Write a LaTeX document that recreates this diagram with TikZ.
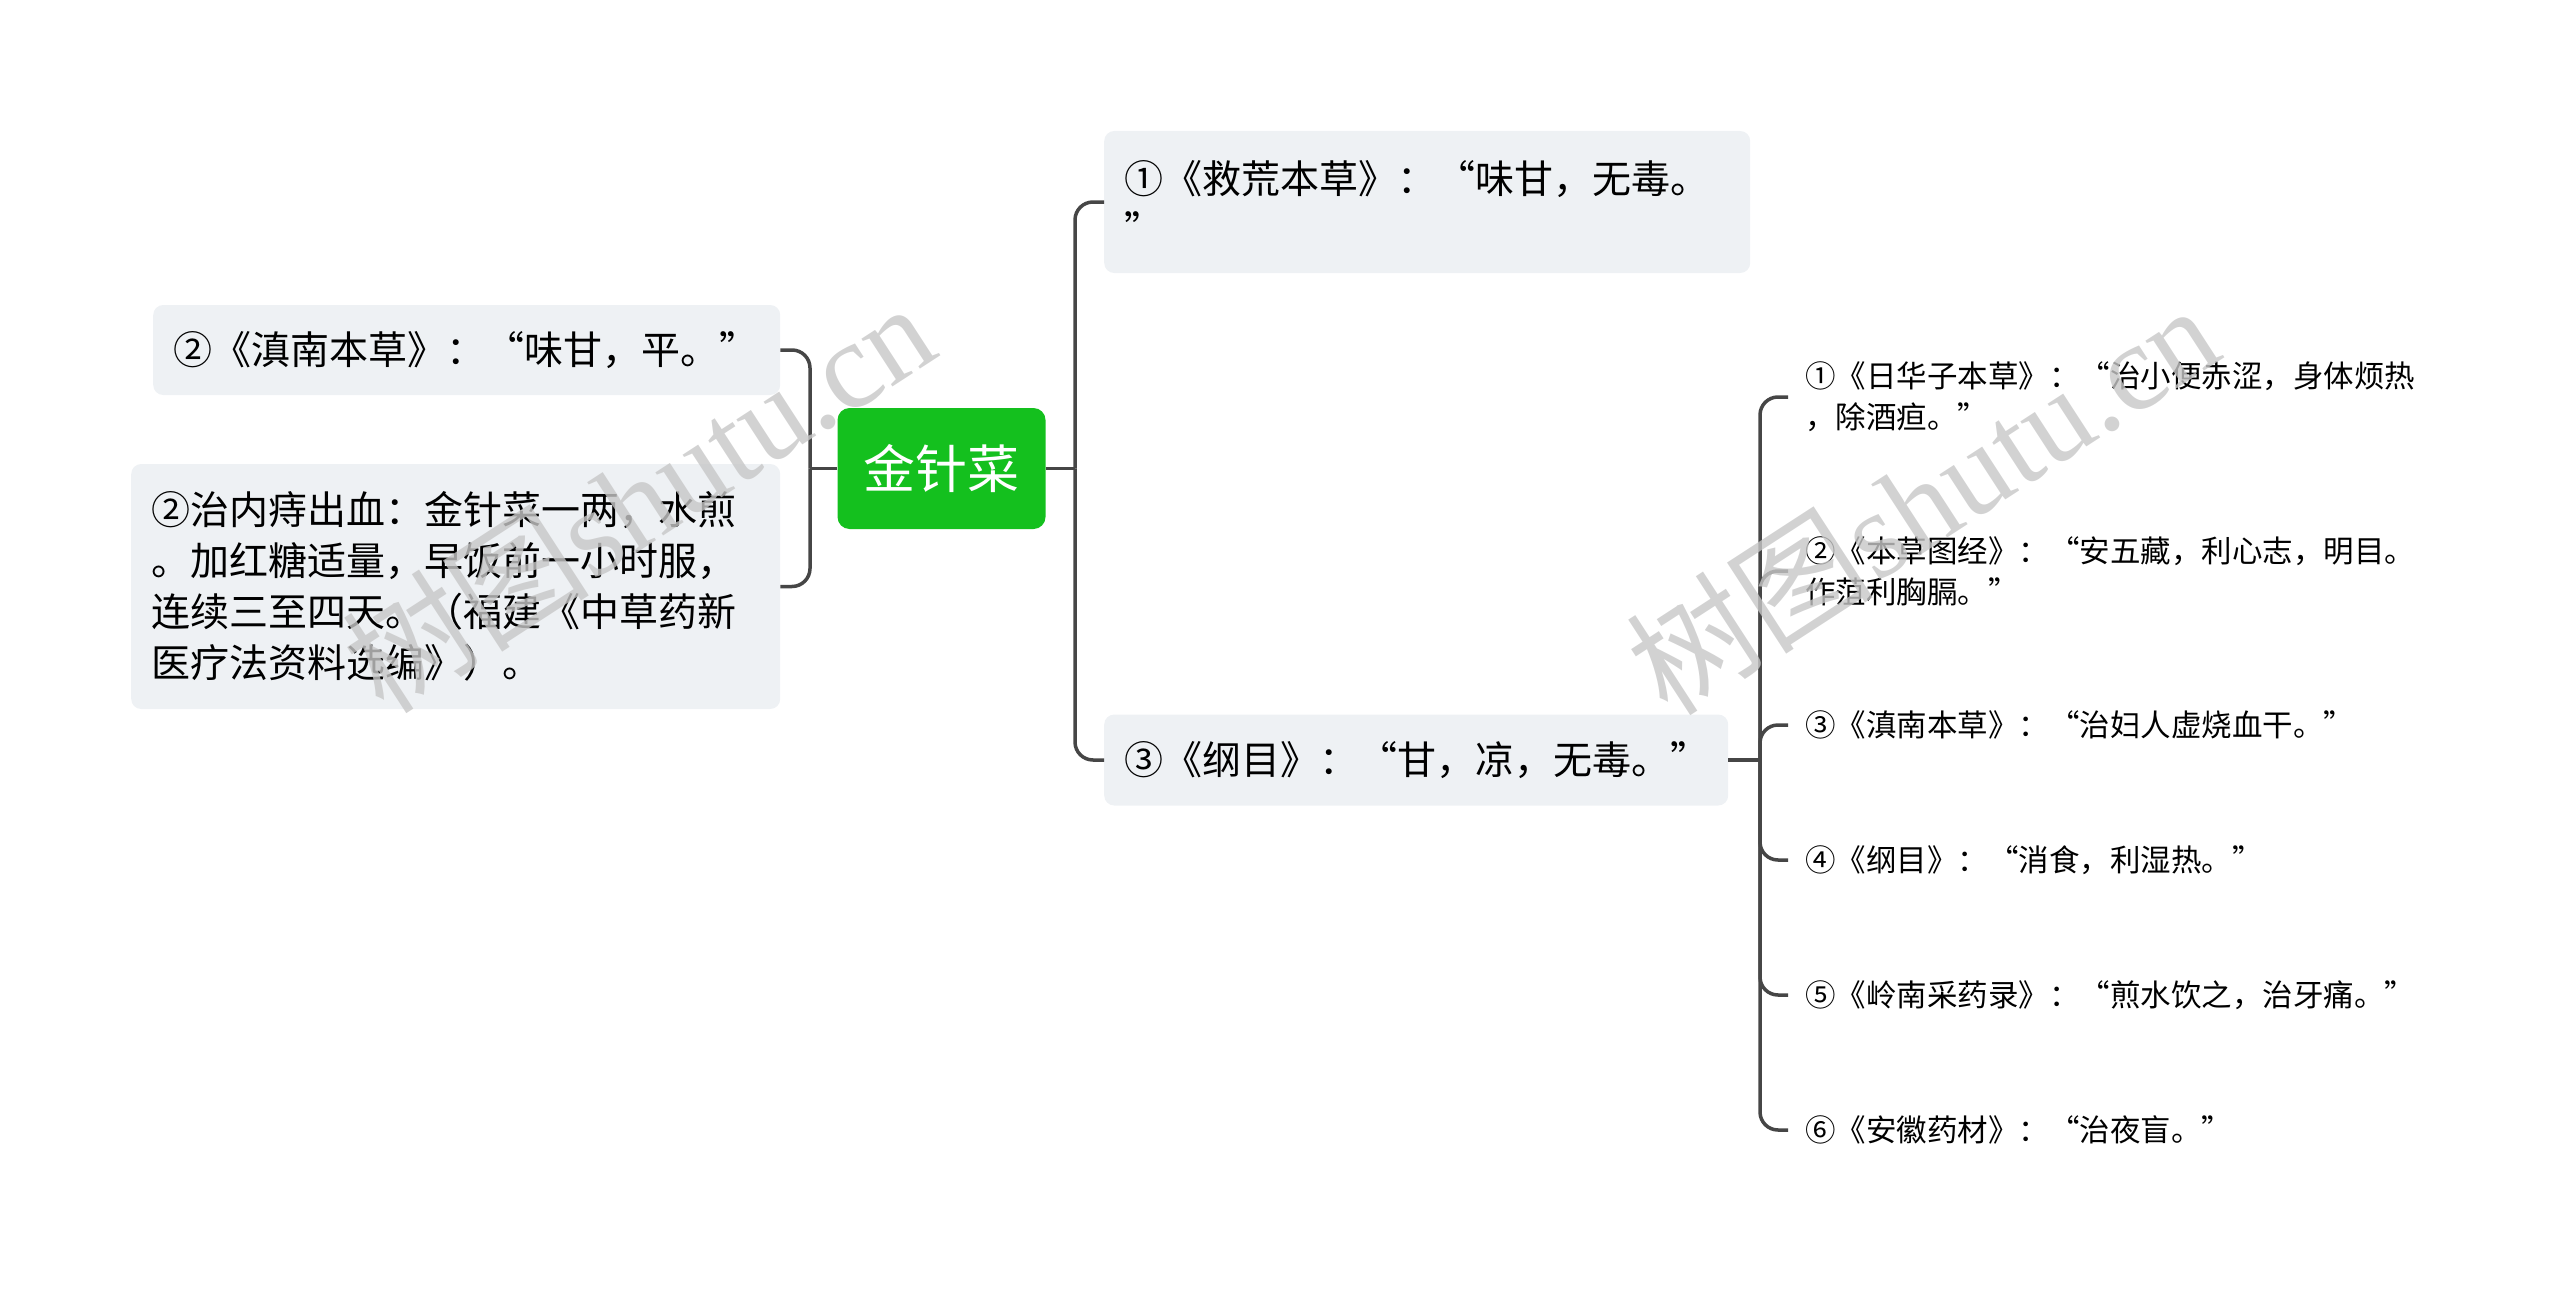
\documentclass[tikz,border=0pt]{standalone}
\usepackage{fontspec}
\setmainfont{Noto Sans CJK SC}
\newfontfamily\wmserif{Liberation Serif}
\usetikzlibrary{positioning}
\definecolor{rootgreen}{RGB}{20,192,30}
\definecolor{boxgray}{RGB}{238,241,244}
\definecolor{linegray}{RGB}{70,70,70}
\tikzset{
    root/.style={fill=rootgreen, text=white, rounded corners=12pt, minimum width=208pt,
        minimum height=121pt, font=\fontsize{52}{60}\selectfont},
    topic/.style={fill=boxgray, rounded corners=10pt, anchor=west, align=left,
        inner xsep=20pt, font=\fontsize{39}{51}\selectfont},
    subtopic/.style={anchor=west, align=left, inner xsep=17pt, inner ysep=0pt,
        font=\fontsize{30.5}{41}\selectfont},
    branch/.style={draw=linegray, line width=3.5pt, rounded corners=18pt},
    wmark/.style={text=black!22, opacity=0.8, font=\fontsize{124}{124}\selectfont, rotate=33}
}
\begin{document}
\begin{tikzpicture}[x=1pt, y=-1pt]
    \useasboundingbox (0,0) rectangle (2560,1295);
    \node[root] (root) at (941.5, 468.5) {金针菜};
    % left side
    \node[topic, text width=587pt, minimum height=90pt] (l1) at (153, 350) {②《滇南本草》：“味甘，平。”};
    \node[topic, text width=609pt, minimum height=245pt] (l2) at (131, 586.5)
        {②治内痔出血：金针菜一两，水煎\\。加红糖适量，早饭前一小时服，\\连续三至四天。（福建《中草药新\\医疗法资料选编》）。};
    % right side
    \node[topic, text width=606pt, minimum height=142pt] (r1) at (1104, 202) {①《救荒本草》：“味甘，无毒。\\”};
    \node[topic, text width=584pt, minimum height=91pt] (r3) at (1104, 760) {③《纲目》：“甘，凉，无毒。”};
    % sources under r3
    \node[subtopic] (s1) at (1788, 397) {①《日华子本草》：“治小便赤涩，身体烦热\\，除酒疸。”};
    \node[subtopic] (s2) at (1788, 571) {②《本草图经》：“安五藏，利心志，明目。\\作菹利胸膈。”};
    \node[subtopic] (s3) at (1788, 725) {③《滇南本草》：“治妇人虚烧血干。”};
    \node[subtopic] (s4) at (1788, 860) {④《纲目》：“消食，利湿热。”};
    \node[subtopic] (s5) at (1788, 995) {⑤《岭南采药录》：“煎水饮之，治牙痛。”};
    \node[subtopic] (s6) at (1788, 1130) {⑥《安徽药材》：“治夜盲。”};
    \coordinate (lj) at (810, 468.5);
    \coordinate (rj) at (1075, 468.5);
    \coordinate (sj) at (1760, 760);
    \draw[branch] (root.west) -- (lj);
    \draw[branch] (l1.east) -| (lj);
    \draw[branch] (l2.east) -| (lj);
    \draw[branch] (root.east) -- (rj);
    \draw[branch] (r1.west) -| (rj);
    \draw[branch] (r3.west) -| (rj);
    \draw[branch] (r3.east) -- (sj);
    \foreach \s in {s1,s2,s3,s4,s5,s6}
        \draw[branch] (\s.west) -| (sj);
    % watermarks
    \node[wmark] (wm1) at (638, 496) {树图{\wmserif shutu.cn}};
    \node[wmark] (wm2) at (1922, 498) {树图{\wmserif shutu.cn}};
\end{tikzpicture}
\end{document}
